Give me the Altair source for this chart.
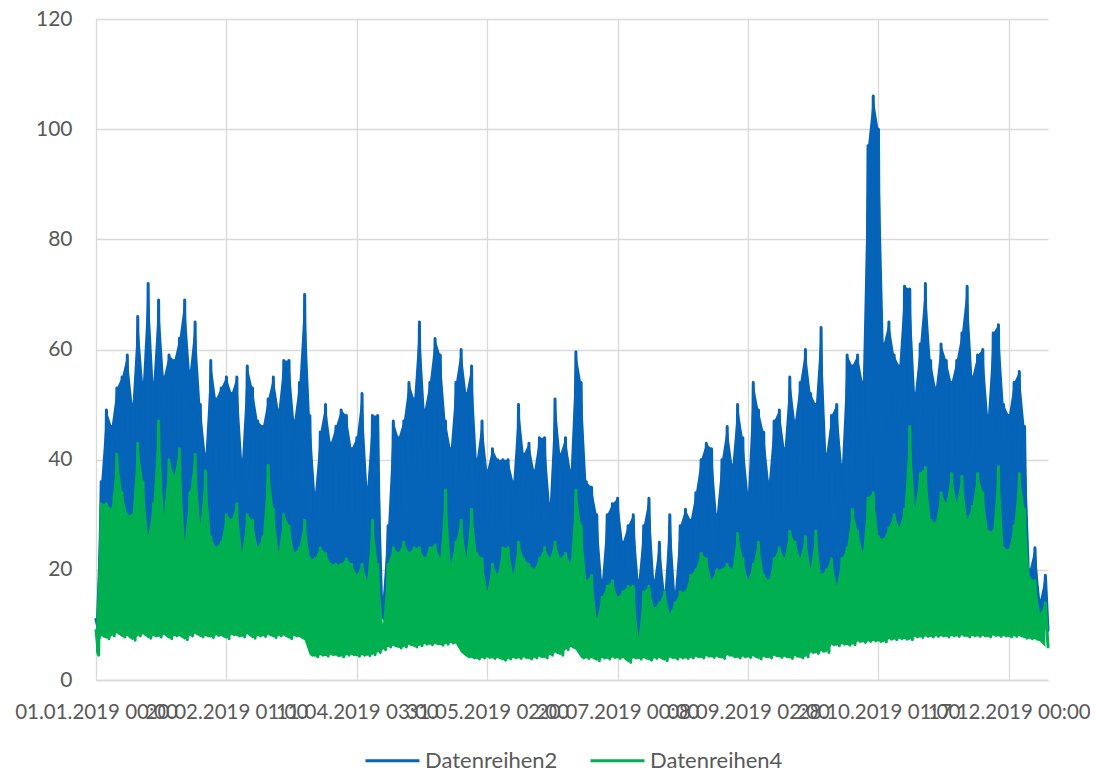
import altair as alt
import pandas as pd

# ---- axis / legend text ----
x_tick_days = [0, 50, 100, 150, 200, 250, 300, 350]
x_tick_labels = [
    "01.01.2019 00:00", "20.02.2019 01:00", "11.04.2019 03:00", "31.05.2019 02:00",
    "20.07.2019 00:00", "08.09.2019 02:00", "28.10.2019 01:00", "17.12.2019 00:00",
]
y_ticks = [0, 20, 40, 60, 80, 100, 120]
series_names = ["Datenreihen2", "Datenreihen4"]
series_colors = ["#0563B8", "#00B050"]

# ---- Datenreihen2 (blue): local peaks on even days 0..364, troughs on odd days 1..365 ----
blue_peaks = [
    11, 36, 49, 46, 53, 55, 59, 50, 66, 54,
    72, 54, 69, 55, 59, 58, 62, 69, 56, 65,
    50, 41, 58, 51, 53, 55, 52, 55, 40, 57,
    53, 47, 46, 51, 55, 49, 58, 58, 47, 54,
    70, 48, 34, 45, 50, 43, 46, 49, 48, 42,
    44, 52, 35, 48, 48, 15, 28, 47, 44, 47,
    54, 51, 65, 49, 54, 62, 59, 47, 42, 54,
    60, 52, 57, 40, 47, 38, 42, 40, 40, 40,
    36, 50, 41, 43, 38, 44, 44, 32, 51, 41,
    44, 38, 59.6, 54, 36, 35, 30, 18, 30, 32,
    33, 25, 28, 30, 18, 28, 33, 18, 25, 16,
    30, 16, 28, 31, 29, 34, 40, 43, 42, 30,
    40, 46, 39, 50, 44, 34, 54, 49, 45, 36,
    47, 49, 42, 55, 47, 54, 60, 52, 50, 64,
    41, 48, 50, 39, 59, 57, 59, 54, 97, 106,
    100, 61, 65, 59, 57, 71.5, 71, 52, 61, 72,
    58, 53, 61, 58, 54, 58, 63, 71.5, 55, 59,
    60, 48, 63, 64.5, 50, 48, 54, 56, 46, 20,
    24, 14.5, 19,
]
blue_troughs = [
    9,
    11, 12, 11, 11.5, 12, 11, 12, 11.5, 11, 12,
    11, 12, 11.5, 11, 12, 11, 11.5, 12, 11, 12,
    11, 11.5, 12, 11, 11, 12, 11.5, 11, 12, 11,
    11.5, 12, 11, 11, 12, 11.5, 11, 12, 11, 11,
    7, 7.5, 7, 7, 7.5, 7, 7.5, 7, 7, 7.5, 7, 7.5, 7,
    12, 11,
    9, 9.5, 9, 9, 9.5, 9, 9, 9.5, 9, 9.5, 9, 9, 9.5, 9,
    7, 6.5, 6.5, 6, 6.5, 6, 6.5, 6.5, 6, 6.5, 6, 6.5, 6.5, 6, 6.5, 6, 6.5, 7, 7, 7.5, 8, 8, 8,
    6, 6, 5.5, 6, 6, 5.5, 6, 6, 5.5, 6, 6, 5.5, 6, 6, 5.5, 6, 6, 5.5, 6, 6, 5.5, 6,
    6.5, 6.5, 7, 6.5, 6.5, 7, 6.5, 6.5, 7, 6.5, 6.5, 7, 6.5, 6.5, 7, 6.5, 6.5, 7, 6.5, 6.5, 7, 6.5,
    8, 8, 8, 8, 9, 9, 9, 9, 9, 10, 10, 10, 10, 10, 10, 10, 10, 10, 10, 10, 10.5, 10.5, 10.5, 10.5,
    11, 11.5, 11, 11, 11.5, 11, 11, 11.5, 11, 11, 11.5, 11, 11, 11.5, 11, 11, 11.5, 11,
    10, 10, 9, 9,
]

# ---- Datenreihen4 (green) ----
green_peaks = [
    9, 32, 32, 31, 41, 34, 30, 30, 43, 36,
    26, 32, 47, 30, 40, 37, 42, 25, 34, 41,
    28, 38, 26, 24, 25, 30, 29, 32, 23, 30,
    29, 24, 26, 39, 31, 23, 30, 28, 23, 24,
    29, 22, 22, 24, 23, 21, 21, 21, 22, 21,
    19, 21, 18, 29, 21, 10, 21, 24, 23, 25,
    23, 24, 24, 22, 24, 24.5, 22, 34.5, 21, 25,
    29, 22, 31, 23, 22, 16, 21, 19, 24, 24,
    19, 25, 22, 21, 20, 22, 24, 22, 25, 22,
    23, 21, 34.5, 28, 18, 19, 11, 15, 17, 18,
    15, 16, 17, 17, 7.5, 16, 17, 13, 14, 16,
    12, 14, 16, 16, 19, 20, 23, 22, 18, 20,
    20, 21, 20, 26.6, 22, 18, 21, 25, 19, 18,
    22, 24, 22, 27, 25, 22, 26, 20, 27, 19,
    20, 22, 17, 22, 24, 31, 27, 23, 33, 34,
    26, 25.5, 27.6, 30, 27.6, 31, 46, 31, 37.5, 38.6,
    29, 28.5, 34, 32, 37.5, 32, 37, 29, 31.5, 37.5,
    34, 27, 27, 38.7, 24, 23.6, 28, 37.5, 31, 18.5,
    18, 12, 14,
]
green_troughs = [
    4.5,
    8, 7.5, 8, 8.5, 7.8, 8, 7.2, 8, 8.3, 7.6,
    8, 7.8, 8.2, 7.5, 8, 8, 7.3, 8, 8.4, 7.8,
    8, 7.7, 8.1, 8, 7.5, 8.2, 8, 7.8, 8.3, 7.6,
    8, 7.9, 8.2, 7.7, 8, 8.1, 7.5, 8, 7.8, 7.2,
    4.5, 4.2, 4.5, 4.3, 4.6, 4.4, 4.2, 4.5, 4.6, 4.3, 4.5, 4.4, 4.6,
    5, 5.5,
    6, 6.2, 5.8, 6, 6.4, 6, 6.2, 6.5, 6.4, 6.6, 6.3, 6.5, 6.7, 6.6,
    5, 4.2, 4, 3.8, 4, 4.1, 3.9, 4, 3.6, 3.8, 4, 3.9, 4.1, 3.8, 4, 4.2, 4, 4.5, 5, 4.5, 5.5, 6, 5.5,
    4, 3.9, 4, 3.5, 4, 3.8, 4.1, 3.9, 4, 3.2, 4, 3.8, 4, 3.6, 3.9, 4, 3.5, 4.1, 3.8, 4, 3.9, 4,
    4.2, 4, 4.3, 4.1, 4.2, 3.9, 4.5, 4.2, 4, 4.2, 4.1, 4.3, 3.8, 4.2, 4, 4.4, 4.1, 4.2, 3.9, 4.3, 4, 4.2,
    5, 4.8, 5.2, 5, 6.4, 6.2, 6.5, 6.3, 6.4, 7, 6.8, 7, 7.1, 7, 6.9, 7.4, 7.3, 7.5, 7.4, 7.3, 7.8, 7.7, 7.9, 7.8,
    7.9, 8, 7.8, 8, 7.9, 8.1, 7.8, 8, 7.9, 8, 7.8, 8.1, 7.9, 8, 7.8, 7.9, 8, 7.6,
    7.5, 7.4, 7, 6,
]

series_data = [
    (series_names[0], series_colors[0], blue_peaks, blue_troughs),
    (series_names[1], series_colors[1], green_peaks, green_troughs),
]

long_rows, wide_rows = [], []
for name, _c, peaks, troughs in series_data:
    n = min(len(peaks), len(troughs))
    for i in range(n):
        long_rows.append({"day": 2 * i, "value": peaks[i], "series": name})
        long_rows.append({"day": 2 * i + 1, "value": troughs[i], "series": name})
        wide_rows.append({"day": 2 * i, "peak": peaks[i], "trough": troughs[i], "series": name})
df_long = pd.DataFrame(long_rows)
df_wide = pd.DataFrame(wide_rows)

FONT = "Lato"
TEXT = "#595959"
GRID = "#D9D9D9"

label_expr = "[" + ",".join("'" + s + "'" for s in x_tick_labels) + "][round(datum.value / 50)]"

x_scale = alt.Scale(domain=[0, 365], nice=False, zero=False)
y_scale = alt.Scale(domain=[0, 120], nice=False)
x_axis = alt.Axis(
    values=x_tick_days, labelExpr=label_expr, title=None,
    grid=True, gridColor=GRID, gridWidth=1.3,
    ticks=False, tickSize=0, domain=True, domainColor=GRID, domainWidth=1.3,
    labelOverlap=False, labelFlush=False, labelBound=False,
    labelFont=FONT, labelFontSize=20.5, labelColor=TEXT, labelPadding=22,
)
y_axis = alt.Axis(
    values=y_ticks, title=None, grid=True, gridColor=GRID, gridWidth=1.3,
    ticks=False, tickSize=0, domain=False,
    labelFont=FONT, labelFontSize=21, labelColor=TEXT, labelPadding=24,
)
legend = alt.Legend(
    title=None, orient="none", legendX=268, legendY=713,
    direction="horizontal", symbolType="stroke", symbolSize=2916,
    symbolStrokeWidth=3, labelFont=FONT, labelFontSize=22,
    labelColor=TEXT, labelOffset=4, columnPadding=26, padding=0,
)
color_enc = alt.Color(
    "series:N", scale=alt.Scale(domain=series_names, range=series_colors), legend=legend
)

layers = []
for name, col, _p, _t in series_data:
    band = (
        alt.Chart(df_wide)
        .transform_filter(alt.datum.series == name)
        .mark_area(color=col, opacity=1)
        .encode(
            x=alt.X("day:Q", scale=x_scale, axis=x_axis),
            y=alt.Y("peak:Q", scale=y_scale, axis=y_axis),
            y2="trough:Q",
        )
    )
    line = (
        alt.Chart(df_long)
        .transform_filter(alt.datum.series == name)
        .mark_line(strokeWidth=3, strokeJoin="round", strokeCap="round")
        .encode(
            x=alt.X("day:Q", scale=x_scale, axis=x_axis),
            y=alt.Y("value:Q", scale=y_scale, axis=y_axis),
            color=color_enc,
        )
    )
    layers += [band, line]

chart = (
    alt.layer(*layers)
    .properties(
        width=952, height=661,
        autosize=alt.AutoSizeParams(type="none"),
        padding={"left": 88, "top": 11, "right": 42, "bottom": 90},
    )
    .configure_view(stroke=None)
)

chart.save("out.html", embed_options={"renderer": "svg", "actions": False})
